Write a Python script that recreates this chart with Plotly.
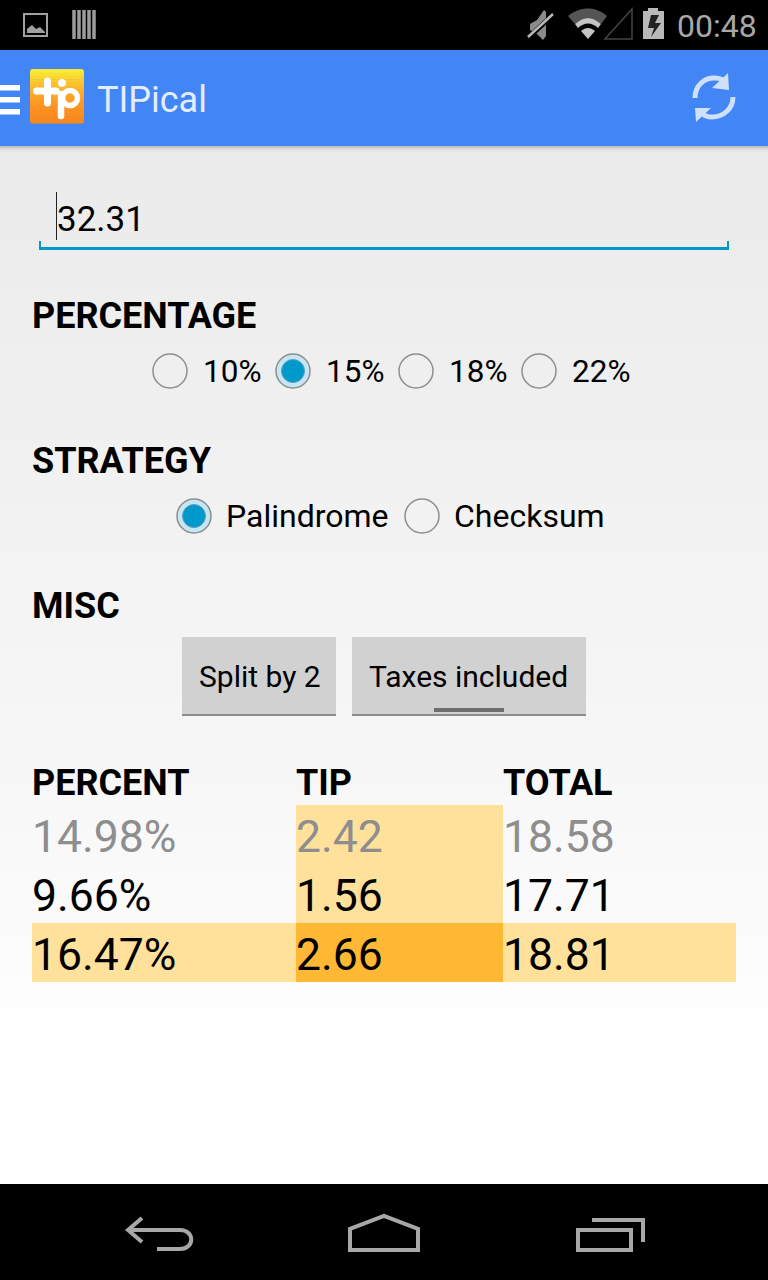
import plotly.graph_objects as go

WIDTH = 768
HEIGHT = 1280
FONT = "Roboto"

# screen content
app_title = "TIPical"
clock = "00:48"
bill_amount = "32.31"
percent_options = ["10%", "15%", "18%", "22%"]
percent_selected = [False, True, False, False]
strategy_options = ["Palindrome", "Checksum"]
strategy_selected = [True, False]
misc_buttons = ["Split by 2", "Taxes included"]
section_titles = ["PERCENTAGE", "STRATEGY", "MISC"]

table_headers = ["PERCENT", "TIP", "TOTAL"]
percent_col = ["14.98%", "9.66%", "16.47%"]
tip_col = ["2.42", "1.56", "2.66"]
total_col = ["18.58", "17.71", "18.81"]
row_color = ["#8e8e8e", "#000000", "#000000"]

# background grey bands: lower edge of each band
bg_band_end = [190, 240, 290, 340, 390, 445, 500, 550, 600, 650, 700, 745, 790, 830, 870, 905, 940, 975, 1005, 1030, 1184]
bg_band_grey = [235, 236, 237, 238, 239, 240, 241, 242, 243, 244, 245, 246, 247, 248, 249, 250, 251, 252, 253, 254, 255]

# logo rows from top to bottom
logo_rows = ["#f9ea35", "#fae032", "#fbd530", "#fbca2e", "#fcc02c", "#fcb72a", "#fdaf28", "#fda826",
             "#fda225", "#fd9c23", "#fc9722", "#fc9321", "#fb8f20", "#fb8c1f", "#fa8a1e", "#fa881d"]

shapes = []
annotations = []


def rect(x0, y0, x1, y1, color):
    shapes.append(dict(type="rect", x0=x0, y0=y0, x1=x1, y1=y1,
                       fillcolor=color, line=dict(width=0)))


def line(x0, y0, x1, y1, color, width=2):
    shapes.append(dict(type="line", x0=x0, y0=y0, x1=x1, y1=y1,
                       line=dict(color=color, width=width)))


def path(d, color=None, fill=None, width=0):
    shapes.append(dict(type="path", path=d, fillcolor=fill or "rgba(0,0,0,0)",
                       line=dict(color=color or "rgba(0,0,0,0)", width=width)))


def circle(cx, cy, r, fill=None, color=None, width=0):
    shapes.append(dict(type="circle", x0=cx - r, y0=cy - r, x1=cx + r, y1=cy + r,
                       fillcolor=fill or "rgba(0,0,0,0)",
                       line=dict(color=color or "rgba(0,0,0,0)", width=width)))


def pill(x0, y0, x1, y1, color, width):
    # shapes have no round line caps
    line(x0, y0, x1, y1, color, width=width)
    circle(x0, y0, width / 2, fill=color)
    circle(x1, y1, width / 2, fill=color)


def label(x, y, text, size, color="#000000", bold=False):
    annotations.append(dict(x=x, y=y, text=text, showarrow=False, xanchor="left",
                            yanchor="middle", borderpad=0,
                            font=dict(family=FONT, size=size, color=color,
                                      weight="bold" if bold else "normal")))


# page background
band_top = 146
for band_end, grey in zip(bg_band_end, bg_band_grey):
    rect(0, band_top, WIDTH, band_end, f"rgb({grey},{grey},{grey})")
    band_top = band_end

# system bars and action bar
rect(0, 0, WIDTH, 50, "#000000")
rect(0, 50, WIDTH, 146, "#4285f4")
rect(0, 1184, WIDTH, HEIGHT, "#000000")
rect(0, 146, WIDTH, 148, "#c4c4c4")
rect(0, 148, WIDTH, 150, "#dcdcdc")
rect(0, 150, WIDTH, 152, "#e6e6e6")

# status bar, left icons
path("M24 14 H47 V36 H24 Z", color="#a0a0a0", width=2)
path("M27 33 L27 29 L32 25 L36 29 L40 27 L45 32 L45 33 Z", fill="#a0a0a0")
for bar_x in [74, 79, 84, 89, 94]:
    line(bar_x, 10, bar_x, 39, "#9c9c9c", width=3.5)

# status bar, right icons
path("M530 24 L537 20 L544 10 L546 12 L546 36 L543 40 L537 34 L530 30 Z", fill="#8a8a8a")
path("M528 38 L554 14", color="#000000", width=5)
path("M528 37 L553 14", color="#b8b8b8", width=2.5)
path("M568 16 C580 6 596 6 607 16 L601 24 C592 16 584 16 575 24 Z", fill="#555555")
path("M575 24 C584 16 592 16 601 24 L598 28 C592 22 584 22 578 28 Z", fill="#c4c4c4")
path("M581 31 C586 27 590 27 595 31 L588 39 Z", fill="#c4c4c4")
path("M605 39 L632 9 V39 Z", color="#444444", width=1.5)
rect(648, 8, 658, 12, "#b8b8b8")
rect(643, 11, 664, 39, "#b8b8b8")
path("M659 15 H651 L648 28 H654 L651 37 L661 23 H655 Z", fill="#222222")
label(676, 26, clock, 32, color="#a8a8a8")

# action bar
for bar_y in [85, 97, 109]:
    rect(0, bar_y, 20, bar_y + 5.5, "#ffffff")

# logo tile with blue corner masks
row_h = (123 - 69) / len(logo_rows)
for i, row in enumerate(logo_rows):
    rect(30, 69 + i * row_h, 84, 69 + (i + 1) * row_h + 0.5, row)
for corner in ["M30 69 H33 C31 69 30 70 30 72 Z", "M84 69 H81 C83 69 84 70 84 72 Z",
               "M30 123.5 H33 C31 123.5 30 122.5 30 120.5 Z", "M84 123.5 H81 C83 123.5 84 122.5 84 120.5 Z"]:
    path(corner, fill="#4285f4")
pill(36.5, 91, 56, 91, "#ffffff", 7)
pill(47.5, 81, 47.5, 103, "#ffffff", 7)
circle(62, 83, 4, fill="#ffffff")
circle(70, 98, 7.5, color="#ffffff", width=5.5)
pill(61, 94, 61, 116, "#ffffff", 6.5)

label(96, 100, app_title, 36, color="#e4edfd")
icon = "#d0e0fb"
path("M695 98 C695 85 705 77 716 78 C720 78 723 80 725 81", color=icon, width=5)
path("M728 73 L729 90 L712 88 Z", fill=icon)
path("M733 97 C733 109 723 117 712 117 C708 117 705 116 703 114", color=icon, width=5)
path("M696 122 L695 108 L711 108 Z", fill=icon)

# bill input
line(56.5, 192, 56.5, 240, "#222222", width=1)
label(56, 219, bill_amount, 35)
rect(39, 247, 729, 250, "#0099cc")
rect(39, 241, 41, 250, "#0099cc")
rect(727, 241, 729, 250, "#0099cc")

# section titles
for title, y in zip(section_titles, [316, 461, 606]):
    label(31, y, title, 36, bold=True)


# radio groups
def radio(cx, cy, selected):
    if selected:
        circle(cx, cy, 17, fill="#c6e6f3", color="#8f8f8f", width=1.5)
        circle(cx, cy, 11.5, fill="#0099cc", color="#5f9fb8", width=1)
    else:
        circle(cx, cy, 17, color="#8f8f8f", width=1.5)


for text, sel, cx in zip(percent_options, percent_selected, [170, 293, 416, 539]):
    radio(cx, 371, sel)
    label(cx + 32, 371, text, 31.5)

for text, sel, cx in zip(strategy_options, strategy_selected, [194, 422]):
    radio(cx, 516, sel)
    label(cx + 31, 516, text, 32)

# toggle buttons
for text, x0, x1 in zip(misc_buttons, [182, 352], [336, 586]):
    rect(x0, 637, x1, 716, "#d1d1d1")
    rect(x0, 714, x1, 716, "#8c8c8c")
    label(x0 + 16, 676, text, 30)
rect(434, 708, 504, 712, "#6e6e6e")

# results table
col_x = [32, 296, 503, 736]
row_y = [805, 864, 923, 982]
light = "#ffe19c"
dark = "#ffb833"
rect(col_x[1], row_y[0], col_x[2], row_y[3], light)
rect(col_x[0], row_y[2], col_x[3], row_y[3], light)
rect(col_x[1], row_y[2], col_x[2], row_y[3], dark)

for head, x in zip(table_headers, col_x):
    label(x - 1, 783, head, 36, bold=True)
for i in range(3):
    cy = (row_y[i] + row_y[i + 1]) / 2
    label(col_x[0] - 1, cy + 2, percent_col[i], 44.5, color=row_color[i])
    label(col_x[1] - 1, cy + 2, tip_col[i], 44.5, color=row_color[i])
    label(col_x[2] - 1, cy + 2, total_col[i], 44.5, color=row_color[i])

# navigation bar
nav = "#a8a8a8"
path("M142 1218 L128 1230 L142 1242", color=nav, width=4)
path("M128 1230 H180 C195 1230 195 1249 180 1249 H157", color=nav, width=4)
path("M350 1250 V1229 L384 1216 L418 1229 V1250 Z", color=nav, width=4)
path("M578 1230 H631 V1250 H578 Z", color=nav, width=4)
path("M592 1220 H643 V1242", color=nav, width=4)

fig = go.Figure()

fig.update_layout(
    width=WIDTH,
    height=HEIGHT,
    margin=dict(l=0, r=0, t=0, b=0),
    paper_bgcolor="#ffffff",
    plot_bgcolor="#ffffff",
    showlegend=False,
    hovermode=False,
    xaxis=dict(range=[0, WIDTH], visible=False, fixedrange=True),
    yaxis=dict(range=[HEIGHT, 0], visible=False, fixedrange=True),
    shapes=shapes,
    annotations=annotations,
)

fig.write_html(
    "out.html",
    config=dict(displayModeBar=False),
    post_script="document.body.style.margin='0';document.body.style.overflow='hidden';",
)
